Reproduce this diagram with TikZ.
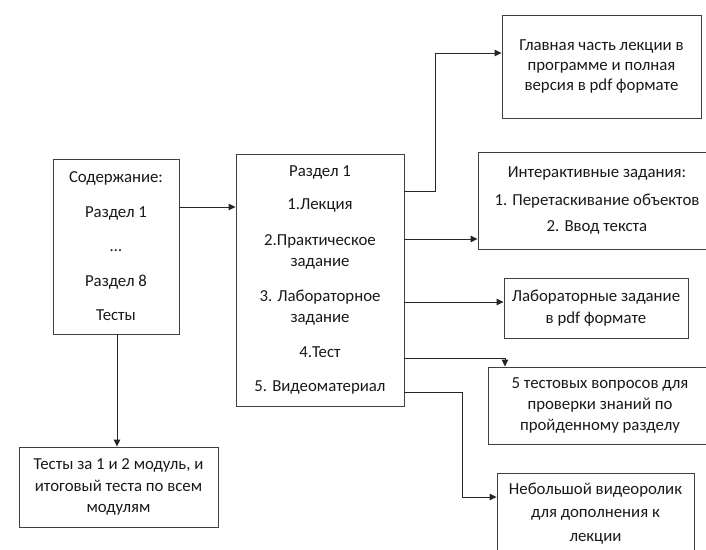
\documentclass[tikz,border=0pt]{standalone}
\usepackage{fontspec}
\setmainfont{Carlito}
\usetikzlibrary{arrows.meta}
\begin{document}
\begin{tikzpicture}[x=1pt,y=-1pt,
  box/.style={draw=black!75, line width=0.9pt, rectangle, inner sep=0pt, align=center,
    font=\fontsize{16.8}{21}\selectfont, text=black!90},
  arr/.style={draw=black!85, line width=0.9pt, -{Triangle[length=7pt,width=6.5pt]}}]
\useasboundingbox (0,0) rectangle (706,549);
\fill[white] (0,0) rectangle (706,549);

\node[box, minimum width=126pt, minimum height=175pt] (left) at (116,246.5)
  {Содержание:\\[13.5pt]Раздел 1\\[13.5pt]…\\[13.5pt]Раздел 8\\[13.5pt]Тесты};
\node[box, minimum width=168pt, minimum height=252pt] (mid) at (320,280)
  {Раздел 1\\[12pt]1.Лекция\\[15pt]2.Практическое\\задание\\[14pt]3. Лабораторное\\задание\\[14pt]4.Тест\\[13pt]5. Видеоматериал};
\node[box, minimum width=199pt, minimum height=103pt, font=\fontsize{16.8}{20}\selectfont] (top) at (601.5,66.5)
  {Главная часть лекции в\\программе и полная\\версия в pdf формате};
\node[box, minimum width=238pt, minimum height=97pt] (inter) at (597,200.5)
  {Интерактивные задания:\\[7pt]1. Перетаскивание объектов\\[5pt]2. Ввод текста};
\node[box, minimum width=184pt, minimum height=60pt] (lab) at (596,308)
  {Лабораторные задание\\[1pt]в pdf формате};
\node[box, minimum width=224pt, minimum height=77pt] (test) at (600,405.5)
  {5 тестовых вопросов для\\проверки знаний по\\пройденному разделу};
\node[box, minimum width=197pt, minimum height=81pt] (video) at (595.5,513.5)
  {Небольшой видеоролик\\[2.5pt]для дополнения к\\[2.5pt]лекции};
\node[box, minimum width=199pt, minimum height=80pt] (bot) at (118.5,487)
  {Тесты за 1 и 2 модуль, и\\[0.5pt]итоговый теста по всем\\[0.5pt]модулям};

\coordinate (y1) at (0,207);
\coordinate (r1) at (0,191);
\coordinate (k1) at (435,53);
\coordinate (y3) at (0,239);
\coordinate (y4) at (0,302);
\coordinate (k5) at (505,358);
\coordinate (k6) at (462,392);
\coordinate (k7) at (0,497);
\coordinate (k8) at (117,0);

\draw[arr] (left.east |- y1) -- (mid.west |- y1);
\draw[arr] (mid.east |- r1) -| (k1) -- (top.west |- k1);
\draw[arr] (mid.east |- y3) -- (inter.west |- y3);
\draw[arr] (mid.east |- y4) -- (lab.west |- y4);
\draw[arr] (mid.east |- k5) -| (test.north -| k5);
\draw[arr] (mid.east |- k6) -- (k6) |- (video.west |- k7);
\draw[arr] (left.south -| k8) -- (bot.north -| k8);
\end{tikzpicture}
\end{document}
